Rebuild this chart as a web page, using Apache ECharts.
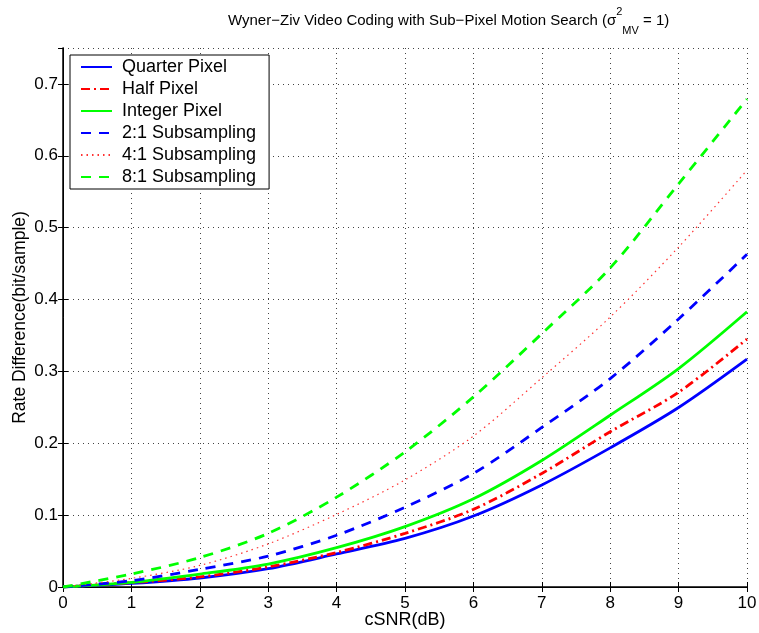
<!DOCTYPE html>
<html>
<head>
<meta charset="utf-8">
<script src="https://cdn.jsdelivr.net/npm/echarts@6/dist/echarts.min.js"></script>
<style>
  html, body { margin: 0; padding: 0; background: #fff; }
  #chart { width: 759px; height: 633px; }
</style>
</head>
<body>
<div id="chart"></div>
<script>
// cSNR (dB)
const snr = [0, 1, 2, 3, 4, 5, 6, 7, 8, 9, 10];

// rate difference (bit/sample)
const quarterPixel = [0, 0.005, 0.0125, 0.0255, 0.046, 0.0676, 0.0987, 0.142, 0.1936, 0.2497, 0.317];
const halfPixel    = [0, 0.006, 0.014, 0.028, 0.048, 0.0746, 0.108, 0.158, 0.216, 0.271, 0.345];
const intPixel     = [0, 0.0065, 0.018, 0.032, 0.0547, 0.084, 0.1227, 0.176, 0.239, 0.304, 0.383];
const sub2         = [0, 0.0088, 0.0246, 0.043, 0.072, 0.111, 0.158, 0.222, 0.29, 0.373, 0.463];
const sub4         = [0, 0.012, 0.030, 0.060, 0.101, 0.149, 0.21, 0.291, 0.3757, 0.473, 0.58];
const sub8         = [0, 0.018, 0.041, 0.0746, 0.125, 0.188, 0.2645, 0.3525, 0.444, 0.561, 0.679];

const seriesNames = ['Quarter Pixel', 'Half Pixel', 'Integer Pixel',
    '2:1 Subsampling', '4:1 Subsampling', '8:1 Subsampling'];

const font = 'Liberation Sans, Arial, Helvetica, sans-serif';

function pairs(ys){
    return snr.map(function(x, i){ return [x, ys[i]]; });
}

function mkLine(name, ys, color, type, width){
    return {
        name: name,
        type: 'line',
        data: pairs(ys),
        smooth: 0.3,
        showSymbol: false,
        symbol: 'none',
        lineStyle: { color: color, width: width, type: type },
        itemStyle: { color: color },
        emphasis: { disabled: true },
        z: 3
    };
}

const chart = echarts.init(document.getElementById('chart'));

const hiddenAxis = {
    axisLine: { show: true, lineStyle: { color: '#000', width: 1 } },
    axisTick: { show: true, inside: true, length: 5, lineStyle: { color: '#000' } },
    axisLabel: { show: false },
    splitLine: { show: false }
};

const option = {
    backgroundColor: '#fff',
    animation: false,
    graphic: [{
        type: 'text',
        left: 228,
        top: 6,
        style: {
            text: '{a|Wyner−Ziv Video Coding with Sub−Pixel Motion Search (σ}{sup|2}{sub|MV}{a| = 1)}',
            rich: {
                a: { fontFamily: font, fontSize: 15, color: '#000', lineHeight: 30, verticalAlign: 'middle' },
                sup: { fontFamily: font, fontSize: 11, color: '#000', verticalAlign: 'top', lineHeight: 30, padding: [0, 0, 10, 0] },
                sub: { fontFamily: font, fontSize: 11, color: '#000', verticalAlign: 'bottom', lineHeight: 30, padding: [8, 0, 0, 0] }
            }
        }
    }],
    legend: {
        orient: 'vertical',
        left: 70,
        top: 55,
        padding: [3, 13, 3, 10],
        itemGap: 4,
        itemWidth: 31,
        itemHeight: 18,
        backgroundColor: '#fff',
        borderColor: '#000',
        borderWidth: 1,
        borderRadius: 0,
        itemStyle: { opacity: 0 },
        textStyle: { fontFamily: font, fontSize: 18, color: '#000', width: 137, padding: [0, 0, 0, 5] },
        data: seriesNames
    },
    grid: { left: 63, right: 12, top: 48, bottom: 46, containLabel: false, outerBoundsMode: 'none' },
    xAxis: [{
        type: 'value',
        min: 0, max: 10, interval: 1,
        name: 'cSNR(dB)',
        nameLocation: 'middle',
        nameGap: 24,
        nameMoveOverlap: false,
        nameTextStyle: { fontFamily: font, fontSize: 18, color: '#000' },
        axisLine: { show: true, onZero: false, lineStyle: { color: '#000', width: 1.5 } },
        axisTick: { show: true, inside: true, length: 5, lineStyle: { color: '#000' } },
        axisLabel: { fontFamily: font, fontSize: 17, color: '#000', margin: 8 },
        splitLine: { show: true, lineStyle: { color: '#444', type: [1, 4], width: 1 } }
    }, Object.assign({ type: 'value', min: 0, max: 10, interval: 1, position: 'top' }, hiddenAxis)],
    yAxis: [{
        type: 'value',
        min: 0, max: 0.75, interval: 0.1,
        name: 'Rate Difference(bit/sample)',
        nameLocation: 'middle',
        nameGap: 34,
        nameMoveOverlap: false,
        nameTextStyle: { fontFamily: font, fontSize: 17.5, color: '#000' },
        axisLine: { show: true, onZero: false, lineStyle: { color: '#000', width: 1.5 } },
        axisTick: { show: true, inside: true, length: 5, lineStyle: { color: '#000' } },
        axisLabel: {
            fontFamily: font, fontSize: 17, color: '#000', margin: 5,
            showMaxLabel: false,
            formatter: function(v){ return Math.round(v * 10) / 10 + ''; }
        },
        splitLine: { show: true, lineStyle: { color: '#444', type: [1, 4], width: 1 } }
    }, Object.assign({ type: 'value', min: 0, max: 0.75, interval: 0.1, position: 'right' }, hiddenAxis)],
    series: [
        mkLine(seriesNames[0], quarterPixel, '#0000ff', 'solid', 2.8),
        mkLine(seriesNames[1], halfPixel, '#ff0000', [9, 4, 2, 4], 2.8),
        mkLine(seriesNames[2], intPixel, '#00ff00', 'solid', 2.8),
        mkLine(seriesNames[3], sub2, '#0000ff', [10, 8], 2.8),
        mkLine(seriesNames[4], sub4, '#ff3333', [1.5, 4], 1.2),
        mkLine(seriesNames[5], sub8, '#00ff00', [10, 8], 2.8)
    ]
};

chart.setOption(option);
</script>
</body>
</html>
